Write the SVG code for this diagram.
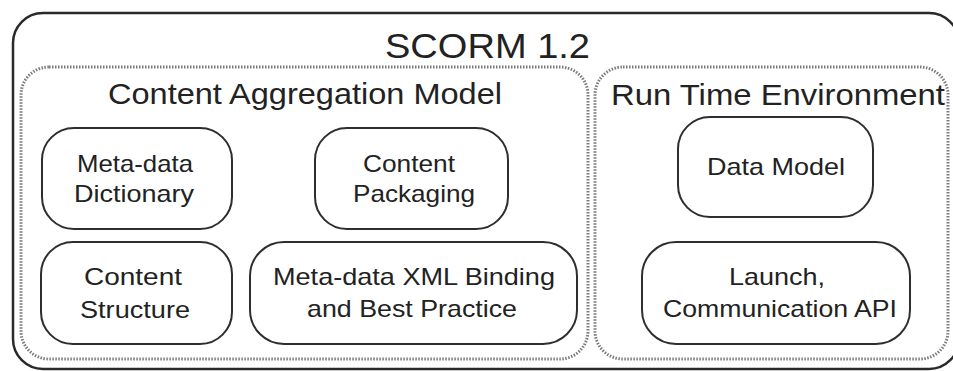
<svg xmlns="http://www.w3.org/2000/svg" width="953" height="371" viewBox="0 0 953 371">
  <style>
    .frame { fill: none; stroke: #2a2a2a; stroke-width: 2.5; }
    .group { fill: none; stroke: #7a7a7a; stroke-width: 3; stroke-dasharray: 1.5 1.5; }
    .node { fill: #ffffff; stroke: #2e2e2e; stroke-width: 2; }
    text { font-family: "Liberation Sans", Arial, sans-serif; fill: #222222; text-anchor: middle; }
    .title { font-size: 35px; }
    .sub { font-size: 30px; }
    .label { font-size: 24px; }
  </style>
  <rect width="953" height="371" fill="#ffffff"/>

  <!-- SCORM 1.2 outer frame -->
  <g id="scorm">
    <rect class="frame" x="13" y="13" width="946" height="356" rx="30"/>
    <text class="title" x="487.5" y="58" textLength="205" lengthAdjust="spacingAndGlyphs">SCORM 1.2</text>
  </g>

  <!-- Content Aggregation Model -->
  <g id="cam">
    <rect class="group" x="21" y="67" width="567" height="292" rx="28"/>
    <text class="sub" x="305" y="104" textLength="394" lengthAdjust="spacingAndGlyphs">Content Aggregation Model</text>
  </g>

  <!-- Run Time Environment -->
  <g id="rte">
    <rect class="group" x="595" y="67" width="353" height="292" rx="28"/>
    <text class="sub" x="778" y="105" textLength="334" lengthAdjust="spacingAndGlyphs">Run Time Environment</text>
  </g>

  <g id="metadata-dictionary">
    <rect class="node" x="42" y="128" width="190" height="101" rx="32"/>
    <text class="label" x="135" y="172" textLength="116" lengthAdjust="spacingAndGlyphs">Meta-data</text>
    <text class="label" x="134" y="202" textLength="120" lengthAdjust="spacingAndGlyphs">Dictionary</text>
  </g>

  <g id="content-packaging">
    <rect class="node" x="315" y="128" width="193" height="101" rx="32"/>
    <text class="label" x="409" y="172" textLength="92" lengthAdjust="spacingAndGlyphs">Content</text>
    <text class="label" x="414" y="202" textLength="122" lengthAdjust="spacingAndGlyphs">Packaging</text>
  </g>

  <g id="content-structure">
    <rect class="node" x="41" y="242" width="191" height="102" rx="32"/>
    <text class="label" x="133" y="285" textLength="98" lengthAdjust="spacingAndGlyphs">Content</text>
    <text class="label" x="135" y="318" textLength="110" lengthAdjust="spacingAndGlyphs">Structure</text>
  </g>

  <g id="metadata-xml-binding">
    <rect class="node" x="250" y="242" width="327" height="102" rx="34"/>
    <text class="label" x="414" y="285" textLength="282" lengthAdjust="spacingAndGlyphs">Meta-data XML Binding</text>
    <text class="label" x="412" y="317" textLength="210" lengthAdjust="spacingAndGlyphs">and Best Practice</text>
  </g>

  <g id="data-model">
    <rect class="node" x="678" y="117" width="195" height="100" rx="32"/>
    <text class="label" x="776" y="175" textLength="138" lengthAdjust="spacingAndGlyphs">Data Model</text>
  </g>

  <g id="launch-api">
    <rect class="node" x="642" y="242" width="268" height="102" rx="34"/>
    <text class="label" x="777" y="285" textLength="96" lengthAdjust="spacingAndGlyphs">Launch,</text>
    <text class="label" x="780" y="317" textLength="234" lengthAdjust="spacingAndGlyphs">Communication API</text>
  </g>

  <!-- no connectors: the model is shown by containment -->
  <g id="connectors"/>
</svg>
